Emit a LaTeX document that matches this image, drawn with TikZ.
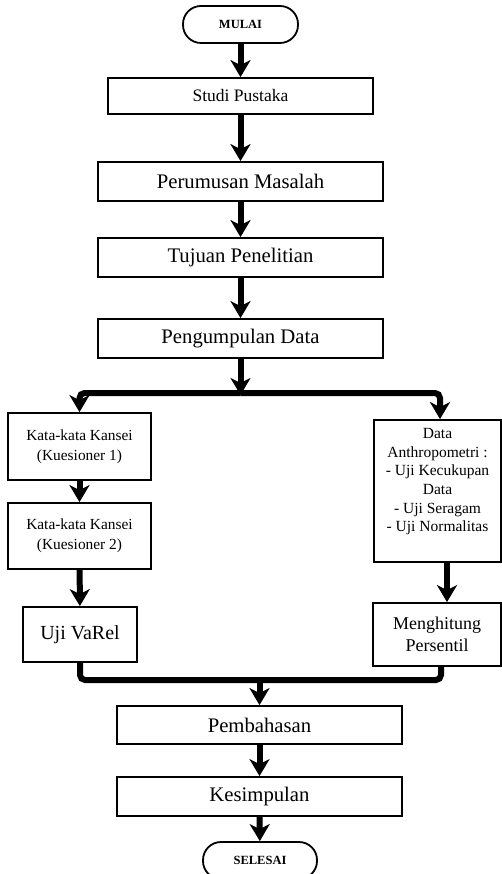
\documentclass[tikz,border=0pt]{standalone}
\usepackage{fontspec}
\setmainfont{Liberation Serif}
\usetikzlibrary{arrows.meta}
\newcommand{\fs}[2]{\fontsize{#1}{#2}\selectfont}
\begin{document}
\begin{tikzpicture}[x=1pt,y=-1pt,
  box/.style={draw, line width=1.8pt, inner sep=1pt, align=center},
  term/.style={draw, line width=1.8pt, rounded corners=18pt, inner sep=0pt, minimum height=37pt, font=\bfseries\fs{12.5}{14}},
  arr/.style={line width=6pt, -{Stealth[width=20pt,length=17pt,inset=5pt]}},
  conn/.style={line width=6pt, rounded corners=5pt}]
\useasboundingbox (0,0) rectangle (502,874);
\fill[white] (0,0) rectangle (502,874);
% top column
\node[term, minimum width=115pt] (mulai) at (240.5,24.5) {MULAI};
\node[box, minimum width=265pt, minimum height=36pt, font=\fs{17.5}{20}] (studi) at (240.5,96) {Studi Pustaka};
\node[box, minimum width=285pt, minimum height=39pt, font=\fs{20.7}{24}] (rumus) at (240.5,181.5) {Perumusan Masalah};
\node[box, minimum width=285pt, minimum height=39pt, font=\fs{20.7}{24}] (tujuan) at (240.5,257.5) {Tujuan Penelitian};
\node[box, minimum width=285pt, minimum height=39pt, font=\fs{20.7}{24}] (kumpul) at (240.5,338.5) {Pengumpulan Data};
% left branch
\node[box, minimum width=143pt, minimum height=67pt, font=\fs{15.4}{20}] (k1) at (79.5,446.5) {Kata-kata Kansei\\(Kuesioner 1)};
\node[box, minimum width=143pt, minimum height=66pt, font=\fs{15.4}{20}] (k2) at (79.5,536) {Kata-kata Kansei\\(Kuesioner 2)};
\node[box, minimum width=114pt, minimum height=55pt, font=\fs{20}{24}] (varel) at (80,634.5) {Uji VaRel};
% right branch
\node[box, minimum width=127pt, minimum height=142pt] (data) at (437.5,491) {};
\node[align=center, inner sep=0pt, anchor=north, font=\fs{15.5}{18.7}] (datatxt) at ([yshift=-9pt]data.north) {Data\\Anthropometri :\\- Uji Kecukupan\\Data\\- Uji Seragam\\- Uji Normalitas};
\node[box, minimum width=128pt, minimum height=63pt, font=\fs{18}{21.7}] (hitung) at (437,634.5) {Menghitung\\Persentil};
% bottom column
\node[box, minimum width=285pt, minimum height=38pt, font=\fs{20.7}{24}] (bahas) at (259.5,725) {Pembahasan};
\node[box, minimum width=285pt, minimum height=39pt, font=\fs{20.7}{24}] (simpul) at (259.5,796.5) {Kesimpulan};
\node[term, minimum width=114pt] (selesai) at (260,860.5) {SELESAI};
% connectors
\draw[arr] (mulai) -- (studi);
\draw[arr] (studi) -- (rumus);
\draw[arr] (rumus) -- (tujuan);
\draw[arr] (tujuan) -- (kumpul);
\coordinate (split) at (240.5,393);
\draw[arr] (kumpul) -- ([yshift=-2pt]split);
\draw[arr, rounded corners=5pt] (split) -| (k1.north);
\draw[arr, rounded corners=5pt] (split) -| ([xshift=2.5pt]data.north);
\draw[arr] (k1) -- (k2);
\draw[arr] (k2) -- (varel);
\draw[arr] ([xshift=9.5pt]data.south) -- ([xshift=9.5pt]data.south |- hitung.north);
\coordinate (merge) at (259.5,680);
\draw[conn] (varel.south) |- (merge) -| ([xshift=4pt]hitung.south);
\draw[arr] (merge) -- (bahas);
\draw[arr] (bahas) -- (simpul);
\draw[arr] (simpul) -- (selesai);
\end{tikzpicture}
\end{document}
